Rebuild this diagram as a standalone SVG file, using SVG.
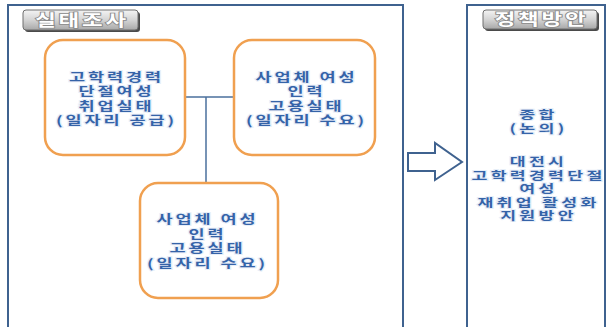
<svg xmlns="http://www.w3.org/2000/svg" width="609" height="327" viewBox="0 0 609 327">
<defs>
<linearGradient id="tabg" x1="0" y1="0" x2="0" y2="1">
<stop offset="0" stop-color="#f4f4f4"/>
<stop offset="0.5" stop-color="#d4d4d4"/>
<stop offset="1" stop-color="#a8a8a8"/>
</linearGradient>
<style>
.frame{fill:#fff;stroke:#3f628f;stroke-width:2}
.tab{fill:url(#tabg);stroke:#6e6e6e;stroke-width:1}
.tabshadow{fill:#4a4a4a}
.tabt{font-family:"Noto Sans CJK KR","Noto Sans",sans-serif;font-size:16px;font-weight:bold;fill:#fff;stroke:#8a8a8a;stroke-width:1.6;paint-order:stroke;text-anchor:middle;letter-spacing:2px}
.box{fill:#fff;stroke:#f0a050;stroke-width:2.5}
.t{font-family:"Noto Sans CJK KR","Noto Sans",sans-serif;font-size:12px;font-weight:bold;fill:#3563a8;stroke:#e6eef8;stroke-width:2;paint-order:stroke;text-anchor:middle;letter-spacing:2px}
.t2{font-size:11.5px;letter-spacing:2.2px}
.con{fill:none;stroke:#4a6f9c;stroke-width:1.5}
.arrow{fill:#fff;stroke:#3f628f;stroke-width:2;stroke-linejoin:miter}
</style>
</defs>
<rect width="609" height="327" fill="#fff"/>

<g id="frame-survey">
<rect class="frame" x="8" y="5" width="395" height="340"/>
<rect class="tabshadow" x="25" y="12" width="115" height="20" rx="3"/>
<rect class="tab" x="23" y="10" width="115" height="20" rx="3"/>
<g transform="translate(82 0) scale(1.4 1)"><text class="tabt" x="0" y="26">실태조사</text></g>
</g>

<g id="frame-policy">
<rect class="frame" x="467" y="5" width="138" height="340"/>
<rect class="tabshadow" x="485" y="12" width="114" height="19" rx="3"/>
<rect class="tab" x="483" y="10" width="114" height="19" rx="3"/>
<g transform="translate(541.5 0) scale(1.4 1)"><text class="tabt" x="0" y="25.5">정책방안</text></g>
<g transform="translate(538.5 0) scale(1.5 1)">
<text class="t t2" x="0" y="119.5">종합</text>
<text class="t t2" x="0" y="133">(논의)</text>
<text class="t t2" x="0" y="166.5">대전시</text>
<text class="t t2" x="0" y="180">고학력경력단절</text>
<text class="t t2" x="0" y="193.5">여성</text>
<text class="t t2" x="0" y="207">재취업 활성화</text>
<text class="t t2" x="0" y="220.5">지원방안</text>
</g>
</g>

<g id="connectors">
<line class="con" x1="185" y1="97" x2="234" y2="97"/>
<line class="con" x1="206" y1="97" x2="206" y2="183"/>
</g>

<g id="node-supply">
<rect class="box" x="45" y="40" width="140" height="115" rx="18"/>
<g transform="translate(116.5 0) scale(1.46 1)">
<text class="t" x="0" y="82">고학력경력</text>
<text class="t" x="0" y="96.5">단절여성</text>
<text class="t" x="0" y="111">취업실태</text>
<text class="t" x="0" y="125.5">(일자리 공급)</text>
</g>
</g>

<g id="node-demand1">
<rect class="box" x="234" y="40" width="141" height="115" rx="18"/>
<g transform="translate(306.5 0) scale(1.46 1)">
<text class="t" x="0" y="82">사업체 여성</text>
<text class="t" x="0" y="96.5">인력</text>
<text class="t" x="0" y="111">고용실태</text>
<text class="t" x="0" y="125.5">(일자리 수요)</text>
</g>
</g>

<g id="node-demand2">
<rect class="box" x="140" y="183" width="138" height="115" rx="18"/>
<g transform="translate(207.5 0) scale(1.46 1)">
<text class="t" x="0" y="224.5">사업체 여성</text>
<text class="t" x="0" y="239">인력</text>
<text class="t" x="0" y="253.5">고용실태</text>
<text class="t" x="0" y="268">(일자리 수요)</text>
</g>
</g>

<g id="arrow">
<path class="arrow" d="M408 153 L435 153 L435 143 L462 162 L435 180 L435 171 L408 171 Z"/>
</g>
</svg>
